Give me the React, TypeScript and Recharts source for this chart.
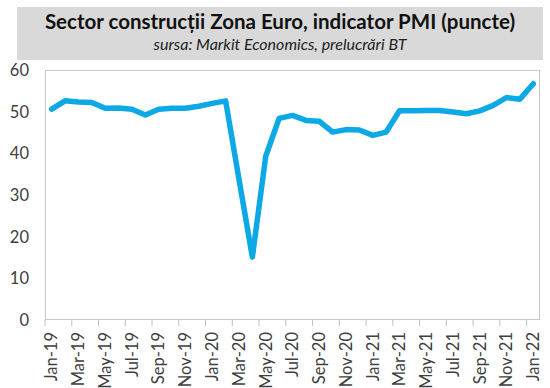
import { LineChart, Line, XAxis, YAxis } from 'recharts';

const months = [
  'Jan-19', 'Feb-19', 'Mar-19', 'Apr-19', 'May-19', 'Jun-19', 'Jul-19', 'Aug-19', 'Sep-19', 'Oct-19', 'Nov-19', 'Dec-19',
  'Jan-20', 'Feb-20', 'Mar-20', 'Apr-20', 'May-20', 'Jun-20', 'Jul-20', 'Aug-20', 'Sep-20', 'Oct-20', 'Nov-20', 'Dec-20',
  'Jan-21', 'Feb-21', 'Mar-21', 'Apr-21', 'May-21', 'Jun-21', 'Jul-21', 'Aug-21', 'Sep-21', 'Oct-21', 'Nov-21', 'Dec-21',
  'Jan-22',
];

const pmi = [
  50.6, 52.6, 52.3, 52.2, 50.8, 50.9, 50.6, 49.2, 50.6, 50.8, 50.8, 51.3,
  52.0, 52.6, 33.8, 15.1, 39.3, 48.4, 49.1, 47.9, 47.7, 45.1, 45.7, 45.6,
  44.3, 45.1, 50.2, 50.2, 50.3, 50.3, 49.9, 49.5, 50.2, 51.5, 53.4, 53.0,
  56.7,
];

const yTicks = [0, 10, 20, 30, 40, 50, 60];

const data = months.map((m, i) => ({ month: m, pmi: pmi[i] }));

const PLOT_LEFT = 45;
const PLOT_TOP = 70;
const PLOT_W = 495;
const PLOT_H = 250;
const HALF_BAND = PLOT_W / months.length / 2;
const FONT = 'Lato, "Open Sans", sans-serif';

const MonthTick = (props: any) => {
  const { x, y, payload } = props;
  return (
    <g transform={`translate(${x},${y})`}>
      <line x1={-HALF_BAND} x2={-HALF_BAND} y1={0} y2={6} stroke="#BFBFBF" />
      <text
        transform="rotate(-90)"
        x={-12}
        y={0}
        dy="0.35em"
        textAnchor="end"
        fill="#404040"
        fontSize={16.5}
        fontFamily={FONT}
      >
        {payload.value}
      </text>
    </g>
  );
};

const App = () => {
  return (
    <div style={{ position: 'absolute', left: 0, top: 0, width: 550, height: 388, background: '#fff', fontFamily: FONT }}>
      <div
        style={{
          position: 'absolute',
          left: 17,
          top: 7,
          width: 526,
          height: 53,
          background: '#D9D9D9',
          textAlign: 'center',
        }}
      >
        <div style={{ fontWeight: 700, fontSize: 20.5, color: '#111', marginTop: 2, lineHeight: '25px' }}>
          Sector construcții Zona Euro, indicator PMI (puncte)
        </div>
        <div style={{ fontStyle: 'italic', fontSize: 16, color: '#222', lineHeight: '20px' }}>
          sursa: Markit Economics, prelucrări BT
        </div>
      </div>

      <div style={{ position: 'absolute', left: 0, top: 0 }}>
        <LineChart width={550} height={388} data={data} margin={{ top: PLOT_TOP, right: 10, left: 10, bottom: 0 }}>
          <XAxis
            dataKey="month"
            interval={1}
            padding={{ left: HALF_BAND, right: HALF_BAND }}
            height={68}
            tickSize={0}
            tickMargin={0}
            axisLine={false}
            tick={<MonthTick />}
          />
          <YAxis
            domain={[0, 60]}
            ticks={yTicks}
            width={35}
            tickSize={0}
            tickMargin={16}
            axisLine={false}
            tickLine={false}
            tick={{ fill: '#404040', fontSize: 16.5, fontFamily: FONT }}
          />
          <Line
            type="linear"
            dataKey="pmi"
            stroke="#0DA9E6"
            strokeWidth={5.5}
            strokeLinejoin="round"
            strokeLinecap="round"
            dot={false}
            isAnimationActive={false}
          />
        </LineChart>
      </div>

      <div
        style={{
          position: 'absolute',
          left: PLOT_LEFT,
          top: PLOT_TOP,
          width: PLOT_W,
          height: PLOT_H,
          border: '1px solid #C8C8C8',
          boxSizing: 'border-box',
          pointerEvents: 'none',
        }}
      />
    </div>
  );
};

export default App;
